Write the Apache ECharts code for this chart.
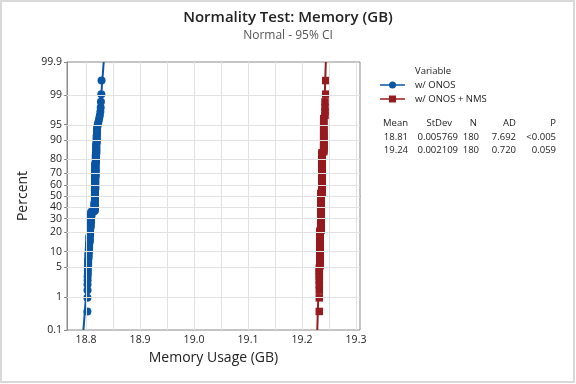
<!DOCTYPE html>
<html><head><meta charset="utf-8">
<script src="https://cdn.jsdelivr.net/npm/echarts@6/dist/echarts.min.js"></script>
<style>html,body{margin:0;padding:0;background:#fff}#c{width:576px;height:384px}</style>
</head><body><div id="c"></div>
<script>
const titleText = 'Normality Test: Memory (GB)';
const subtitleText = 'Normal - 95% CI';
const xAxisName = 'Memory Usage (GB)';
const yAxisName = 'Percent';
const seriesNames = ['w/ ONOS', 'w/ ONOS + NMS'];
const legendTitle = 'Variable';

// distinct observed values (sorted) and how many samples sit at each
const blueValues = [18.8026, 18.8028, 18.8030, 18.8034, 18.8040, 18.8046, 18.8052, 18.8058,
  18.8066, 18.8074, 18.8082, 18.8090, 18.8098,
  18.8160, 18.8166, 18.8170, 18.8174, 18.8182, 18.8190, 18.8198, 18.8204,
  18.8212, 18.8220, 18.8232, 18.8244, 18.8256, 18.8266, 18.8272, 18.8276, 18.8284, 18.8288];
const blueCounts = [2, 2, 2, 3, 4, 4, 4, 4,
  8, 8, 8, 8, 8,
  15, 20, 20, 20, 10, 10, 6, 4,
  1, 1, 1, 1, 1, 1, 1, 1, 1, 1];
const redValues = [19.2320, 19.2333, 19.2350, 19.2372, 19.2402, 19.2426, 19.2439];
const redCounts = [9, 29, 57, 57, 22, 4, 2];

const xTicks = [18.8, 18.9, 19.0, 19.1, 19.2, 19.3];
const xGridLines = [18.8, 18.85, 18.9, 18.95, 19.0, 19.05, 19.1, 19.15, 19.2, 19.25, 19.3];
const percentTicks = [0.1, 1, 5, 10, 20, 30, 40, 50, 60, 70, 80, 90, 95, 99, 99.9];
const statsHeader = ['Mean', 'StDev', 'N', 'AD', 'P'];
const statsRows = [
  ['18.81', '0.005769', '180', '7.692', '<0.005'],
  ['19.24', '0.002109', '180', '0.720', '0.059']
];

const colors = ['#0b55a5', '#961b1e'];
const FONT = "'Open Sans', sans-serif";

function qnorm(p){
  const a=[-3.969683028665376e+01,2.209460984245205e+02,-2.759285104469687e+02,1.383577518672690e+02,-3.066479806614716e+01,2.506628277459239e+00];
  const b=[-5.447609879822406e+01,1.615858368580409e+02,-1.556989798598866e+02,6.680131188771972e+01,-1.328068155288572e+01];
  const c=[-7.784894002430293e-03,-3.223964580411365e-01,-2.400758277161838e+00,-2.549732539343734e+00,4.374664141464968e+00,2.938163982698783e+00];
  const d=[7.784695709041462e-03,3.224671290700398e-01,2.445134137142996e+00,3.754408661907416e+00];
  const pl=0.02425, ph=1-pl; let q,r;
  if(p<pl){q=Math.sqrt(-2*Math.log(p));return (((((c[0]*q+c[1])*q+c[2])*q+c[3])*q+c[4])*q+c[5])/((((d[0]*q+d[1])*q+d[2])*q+d[3])*q+1);}
  if(p<=ph){q=p-0.5;r=q*q;return (((((a[0]*r+a[1])*r+a[2])*r+a[3])*r+a[4])*r+a[5])*q/(((((b[0]*r+b[1])*r+b[2])*r+b[3])*r+b[4])*r+1);}
  q=Math.sqrt(-2*Math.log(1-p));return -(((((c[0]*q+c[1])*q+c[2])*q+c[3])*q+c[4])*q+c[5])/((((d[0]*q+d[1])*q+d[2])*q+d[3])*q+1);
}
function expand(vals, counts){ const out=[]; vals.forEach((v,i)=>{for(let k=0;k<counts[i];k++) out.push(v);}); return out; }
function probPoints(arr){ const n=arr.length; return arr.map((v,i)=>[v, qnorm((i+1-0.3)/(n+0.4))]); }
function stats(arr){ const n=arr.length; const m=arr.reduce((s,v)=>s+v,0)/n; const sd=Math.sqrt(arr.reduce((s,v)=>s+(v-m)*(v-m),0)/(n-1)); return {m,sd}; }

const zTicks = percentTicks.map(p=>qnorm(p/100));
const zMin = zTicks[0], zMax = zTicks[zTicks.length-1];

const blue = expand(blueValues, blueCounts);
const red = expand(redValues, redCounts);
const sets = [blue, red];

const series = [];
series.push({
  type:'scatter', data:[], silent:true, z:1,
  markLine:{silent:true, symbol:['none','none'], label:{show:false}, animation:false,
    lineStyle:{color:'#e2e2e2', width:1, type:'solid'},
    emphasis:{disabled:true},
    data: xGridLines.map(v=>({xAxis:v})).concat(zTicks.slice(1,-1).map(z=>({yAxis:z})))}
});
sets.forEach((arr,k)=>{
  const s = stats(arr);
  series.push({type:'line', name:seriesNames[k]+' fit', showSymbol:false, silent:true, z:2,
    lineStyle:{color:colors[k], width:2}, data:[[s.m+s.sd*zMin, zMin],[s.m+s.sd*zMax, zMax]], animation:false});
  series.push({type:'scatter', name:seriesNames[k], z:3, symbol: k===0?'circle':'rect', symbolSize: k===0?8:7.5,
    itemStyle:{color:colors[k], opacity:1}, data: probPoints(arr), animation:false});
});

const txt = {fontFamily:FONT, fill:'#222', fontSize:9.5};
const graphics = [
  {type:'rect', shape:{x:1,y:1,width:573,height:381}, style:{fill:'none', stroke:'#d9d9d9', lineWidth:2}, silent:true},
  {type:'text', x:415, y:71, style:Object.assign({text:legendTitle, verticalAlign:'middle'}, txt)},
  {type:'line', shape:{x1:380,y1:85,x2:405,y2:85}, style:{stroke:colors[0], lineWidth:1.5}},
  {type:'circle', shape:{cx:392.5, cy:85, r:3.5}, style:{fill:colors[0]}},
  {type:'text', x:415, y:85, style:Object.assign({text:seriesNames[0], verticalAlign:'middle'}, txt)},
  {type:'line', shape:{x1:380,y1:99,x2:405,y2:99}, style:{stroke:colors[1], lineWidth:1.5}},
  {type:'rect', shape:{x:389, y:95.5, width:7, height:7}, style:{fill:colors[1]}},
  {type:'text', x:415, y:99, style:Object.assign({text:seriesNames[1], verticalAlign:'middle'}, txt)}
];
const headRight = [408, 452, 477, 516, 556];
const valRight = [408, 458, 479, 516, 556];
statsHeader.forEach((h,i)=>graphics.push({type:'text', x:headRight[i], y:123, style:Object.assign({text:h, align:'right', verticalAlign:'middle'}, txt)}));
statsRows.forEach((row,r)=>row.forEach((v,i)=>graphics.push({type:'text', x:valRight[i], y:137+r*13.5, style:Object.assign({text:v, align:'right', verticalAlign:'middle'}, txt)})));

const chart = echarts.init(document.getElementById('c'), null, {renderer:'canvas'});
chart.setOption({
  animation:false,
  backgroundColor:'#fff',
  title:[
    {text:titleText, left:'center', top:5, textStyle:{fontFamily:FONT, fontSize:15, fontWeight:600, color:'#222'}},
    {text:subtitleText, left:'center', top:25, textStyle:{fontFamily:FONT, fontSize:12, fontWeight:'normal', color:'#555'}}
  ],
  grid:{left:67, right:216, top:62, bottom:54, show:true, borderColor:'#8a8a8a', borderWidth:1, backgroundColor:'#fff'},
  xAxis:{type:'value', min:18.7648, max:19.3074,
    name:xAxisName, nameLocation:'middle', nameGap:21,
    nameTextStyle:{fontFamily:FONT, fontSize:14, color:'#222'},
    axisLine:{show:true, lineStyle:{color:'#8a8a8a'}},
    axisTick:{show:true, length:3, customValues:xTicks, lineStyle:{color:'#8a8a8a'}},
    axisLabel:{customValues:xTicks, formatter:v=>v.toFixed(1), fontFamily:FONT, fontSize:10.5, color:'#222', margin:5},
    splitLine:{show:false}},
  yAxis:{type:'value', min:zMin, max:zMax,
    name:yAxisName, nameLocation:'middle', nameGap:36, nameRotate:90,
    nameTextStyle:{fontFamily:FONT, fontSize:14, color:'#222'},
    axisLine:{show:true, lineStyle:{color:'#8a8a8a'}},
    axisTick:{show:true, length:3, customValues:zTicks, lineStyle:{color:'#8a8a8a'}},
    axisLabel:{customValues:zTicks, formatter:v=>{let best=0;zTicks.forEach((z,i)=>{if(Math.abs(z-v)<Math.abs(zTicks[best]-v))best=i;});return String(percentTicks[best]);},
      fontFamily:FONT, fontSize:10.5, color:'#222', margin:5},
    splitLine:{show:false}},
  series: series,
  graphic: graphics
});
</script></body></html>
